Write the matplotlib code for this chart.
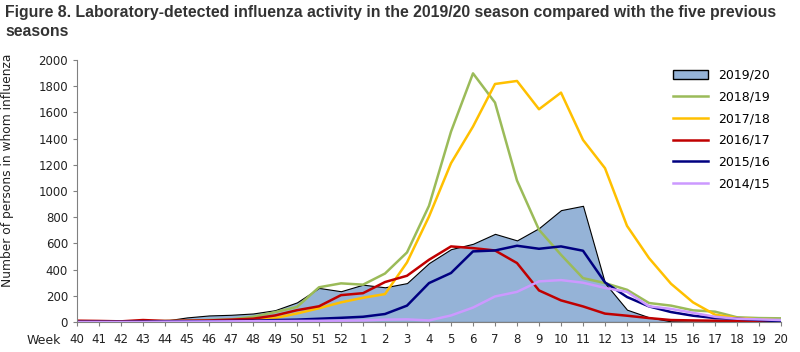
import matplotlib
matplotlib.use("Agg")
import matplotlib.pyplot as plt
from matplotlib.patches import Patch
from matplotlib.lines import Line2D

weeks = ["40", "41", "42", "43", "44", "45", "46", "47", "48", "49", "50", "51", "52",
         "1", "2", "3", "4", "5", "6", "7", "8", "9", "10", "11", "12", "13", "14",
         "15", "16", "17", "18", "19", "20"]

s2019_20 = [0, 0, 0, 0, 10, 35, 50, 55, 65, 90, 150, 260, 235, 285, 265, 297, 450, 556,
            597, 673, 623, 717, 854, 887, 297, 94, 36, 5, 3, 2, 1, 1, 0]
s2018_19 = [5, 5, 5, 5, 8, 10, 15, 20, 40, 75, 115, 265, 295, 285, 370, 531, 887, 1453,
            1898, 1675, 1080, 704, 513, 335, 297, 246, 145, 125, 89, 79, 36, 30, 28]
s2017_18 = [3, 3, 3, 4, 5, 5, 8, 12, 15, 30, 65, 105, 150, 185, 213, 455, 805, 1212,
            1492, 1817, 1840, 1624, 1751, 1390, 1174, 734, 488, 292, 150, 56, 30, 20, 12]
s2016_17 = [10, 8, 5, 15, 8, 10, 12, 18, 25, 50, 90, 120, 205, 220, 305, 353, 475, 577,
            564, 546, 450, 241, 165, 119, 64, 48, 30, 15, 12, 10, 8, 5, 3]
s2015_16 = [2, 2, 2, 3, 4, 5, 6, 8, 10, 15, 18, 25, 32, 40, 61, 125, 297, 374, 539, 546,
            582, 559, 577, 544, 302, 191, 119, 76, 48, 30, 25, 15, 5]
s2014_15 = [0, 0, 0, 0, 2, 3, 4, 5, 6, 7, 8, 9, 10, 12, 18, 20, 12, 50, 110, 195, 230,
            310, 320, 300, 260, 230, 120, 100, 70, 40, 25, 20, 15]

lines = [
    ("2018/19", s2018_19, "#9bbb59"),
    ("2017/18", s2017_18, "#ffc000"),
    ("2016/17", s2016_17, "#c00000"),
    ("2015/16", s2015_16, "#000080"),
    ("2014/15", s2014_15, "#cc99ff"),
]

fig = plt.figure(figsize=(8, 3.52), dpi=100)
ax = fig.add_axes([77 / 800, 1 - 322 / 352, (781 - 77) / 800, (322 - 60) / 352])

x = list(range(len(weeks)))
ax.fill_between(x, s2019_20, 0, facecolor="#95b3d7", edgecolor="black", linewidth=0.8, zorder=1)
for name, vals, col in lines:
    ax.plot(x, vals, color=col, linewidth=1.8, zorder=2)

ax.set_xlim(0, len(weeks) - 1)
ax.set_ylim(0, 2000)
ax.set_yticks(range(0, 2001, 200))
ax.set_xticks(x)
ax.set_xticklabels(weeks)
ax.tick_params(axis="both", labelsize=8.5, colors="#808080", labelcolor="#222222", length=3)
ax.tick_params(axis="x", pad=5)
for side in ["top", "right"]:
    ax.spines[side].set_visible(False)
for side in ["left", "bottom"]:
    ax.spines[side].set_color("#808080")

ax.set_ylabel("Number of persons in whom influenza", fontsize=8.8, color="#222222")
ax.yaxis.set_label_coords(-0.09, 0.58)
fig.text(27 / 800, 1 - 341 / 352, "Week", fontsize=9, va="center", ha="left", color="#222222")

handles = [Patch(facecolor="#95b3d7", edgecolor="black", label="2019/20")]
handles += [Line2D([0], [0], color=c, linewidth=1.8, label=n) for n, v, c in lines]
ax.legend(handles=handles, loc="upper right", bbox_to_anchor=(1.0, 1.01), frameon=False,
          fontsize=9, handlelength=2.8, labelspacing=0.7)

title_font = ["Liberation Sans", "DejaVu Sans"]
fig.text(5 / 800, 1 - 13 / 352,
         "Figure 8. Laboratory-detected influenza activity in the 2019/20 season compared with the five previous",
         fontsize=11.4, fontweight="bold", va="center", ha="left", color="#333333",
         family=title_font)
fig.text(5 / 800, 1 - 32 / 352, "seasons", fontsize=11.4, fontweight="bold", va="center",
         ha="left", color="#333333", family=title_font)

fig.savefig("out.png", dpi=100)
